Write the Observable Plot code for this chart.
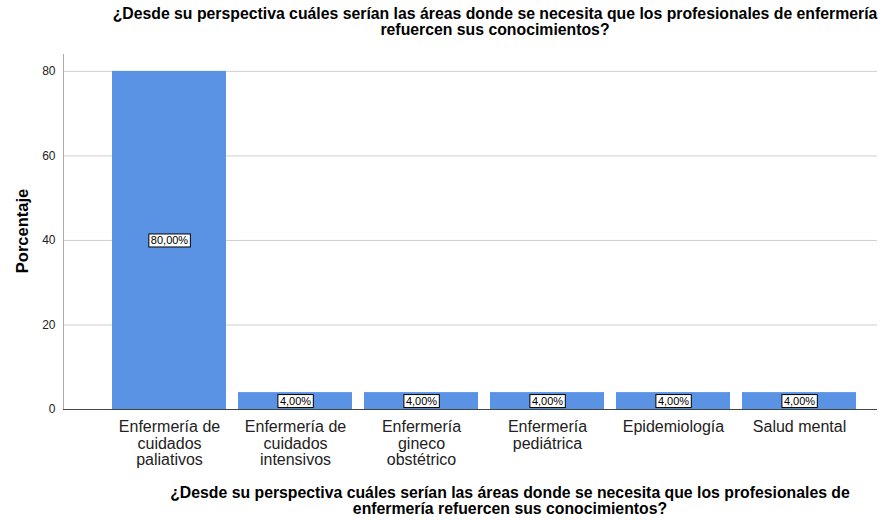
<!DOCTYPE html>
<html><head><meta charset="utf-8">
<script src="https://cdn.jsdelivr.net/npm/d3@7"></script>
<script src="https://cdn.jsdelivr.net/npm/@observablehq/plot@0.6"></script>
<style>
body{margin:0;background:#fff;font-family:"Liberation Sans",Arial,sans-serif;}
#wrap{position:relative;width:893px;height:520px;overflow:hidden;}
.title{position:absolute;font-weight:bold;font-size:15.8px;text-align:center;line-height:16px;color:#000;white-space:nowrap}
#ytitle{position:absolute;left:22px;top:231px;transform:translate(-50%,-50%) rotate(-90deg);font-weight:bold;font-size:16.5px;color:#000;white-space:nowrap}
</style></head><body>
<div id="wrap">
<div class="title" style="left:95px;width:800px;top:6px">¿Desde su perspectiva cuáles serían las áreas donde se necesita que los profesionales de enfermería<br>refuercen sus conocimientos?</div>
<div id="chart" style="position:absolute;left:0;top:46px"></div>
<div id="ytitle"></div>
<div class="title" style="left:110px;width:800px;top:485px">¿Desde su perspectiva cuáles serían las áreas donde se necesita que los profesionales de<br>enfermería refuercen sus conocimientos?</div>
</div>
<script>
const categories = ["Enfermería de cuidados paliativos","Enfermería de cuidados intensivos","Enfermería gineco obstétrico","Enfermería pediátrica","Epidemiología","Salud mental"];
const tickLabels = ["Enfermería de\ncuidados\npaliativos","Enfermería de\ncuidados\nintensivos","Enfermería\ngineco\nobstétrico","Enfermería\npediátrica","Epidemiología","Salud mental"];
const percentages = [80,4,4,4,4,4];
const valueLabels = ["80,00%","4,00%","4,00%","4,00%","4,00%","4,00%"];
const yTicks = [0,20,40,60,80];
const yTitle = "Porcentaje";

document.getElementById("ytitle").textContent = yTitle;
const data = categories.map((c,i)=>({category:c, pct:percentages[i], label:valueLabels[i]}));

const plot = Plot.plot({
  width: 893, height: 430,
  marginLeft: 63, marginRight: 16, marginTop: 8, marginBottom: 67,
  style: {fontFamily: "'Liberation Sans', Arial, sans-serif", background:"#fff", color:"#222"},
  x: {domain: categories, range:[105, 863], padding: 0},
  y: {domain:[0,84]},
  marks: [
    Plot.ruleY(yTicks.filter(d=>d>0), {stroke:"#cfcfcf", strokeOpacity:1}),
    Plot.frame({anchor:"left", stroke:"#aaa"}),
    Plot.barY(data, {x:"category", y:"pct", fill:"#5a93e3", insetLeft:6, insetRight:6}),
    Plot.ruleY([0], {stroke:"#444", strokeOpacity:1}),
    Plot.axisY({ticks:yTicks, tickSize:0, tickPadding:8, fontSize:12, label:null, fill:"#222"}),
    Plot.axisX({tickSize:0, tickPadding:10, fontSize:16, lineHeight:1.06, label:null, fill:"#222",
      tickFormat: d => tickLabels[categories.indexOf(d)]}),
    Plot.text(data, {x:"category", y:d=>d.pct/2, text:"label", fontSize:11, fill:"#000", className:"vlabel"})
  ]
});
document.getElementById("chart").appendChild(plot);
// white boxes with black border behind value labels
plot.querySelectorAll("g.vlabel text").forEach(t=>{
  const b = t.getBBox();
  const ns = "http://www.w3.org/2000/svg";
  const r = document.createElementNS(ns,"rect");
  r.setAttribute("x", b.x-2); r.setAttribute("y", b.y);
  r.setAttribute("width", b.width+4); r.setAttribute("height", b.height+1);
  r.setAttribute("fill","#fff"); r.setAttribute("stroke","#000"); r.setAttribute("stroke-width","1");
  if (t.getAttribute("transform")) r.setAttribute("transform", t.getAttribute("transform"));
  t.parentNode.insertBefore(r, t);
});
</script>
</body></html>
